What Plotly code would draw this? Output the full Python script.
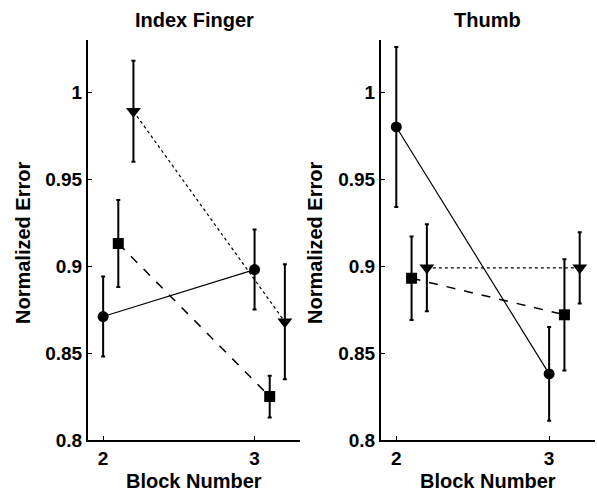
import plotly.graph_objects as go

# Data
circle_x = [2.0, 3.0]
square_x = [2.1, 3.1]
tri_x = [2.2, 3.2]

index_circle = [0.871, 0.898]
index_circle_err = [0.023, 0.023]
index_square = [0.913, 0.825]
index_square_err = [0.025, 0.012]
index_tri = [0.989, 0.868]
index_tri_err = [0.029, 0.033]

thumb_circle = [0.980, 0.838]
thumb_circle_err = [0.046, 0.027]
thumb_square = [0.893, 0.872]
thumb_square_err = [0.024, 0.032]
thumb_tri = [0.899, 0.899]
thumb_tri_err = [0.025, 0.0205]

ytick_vals = [0.8, 0.85, 0.9, 0.95, 1.0]
ytick_text = ["0.8", "0.85", "0.9", "0.95", "1"]
xtick_vals = [2, 3]
xtick_text = ["2", "3"]

W, H = 597, 494
FONT = "Liberation Sans, Arial, sans-serif"

fig = go.Figure()

def add_series(xs, ys, errs, symbol, dash, lw, msize, xa, ya):
    fig.add_trace(go.Scatter(
        x=xs, y=ys, mode="lines+markers",
        line=dict(color="black", width=lw, dash=dash),
        marker=dict(symbol=symbol, size=msize, color="black"),
        error_y=dict(type="data", array=errs, visible=True, color="black",
                     thickness=2, width=2),
        xaxis=xa, yaxis=ya, showlegend=False))

add_series(circle_x, index_circle, index_circle_err, "circle", "solid", 1.2, 11, "x", "y")
add_series(square_x, index_square, index_square_err, "square", "dash", 1.5, 11, "x", "y")
add_series(tri_x, index_tri, index_tri_err, "triangle-down", "dot", 1.2, 13, "x", "y")

add_series(circle_x, thumb_circle, thumb_circle_err, "circle", "solid", 1.2, 11, "x2", "y2")
add_series(square_x, thumb_square, thumb_square_err, "square", "dash", 1.5, 11, "x2", "y2")
add_series(tri_x, thumb_tri, thumb_tri_err, "triangle-down", "dot", 1.2, 13, "x2", "y2")

bold = lambda lst: ["<b>%s</b>" % s for s in lst]

axis_common = dict(showgrid=False, zeroline=False, showline=True, linecolor="black",
                   linewidth=2, ticks="inside", ticklen=4, tickwidth=1, tickcolor="black",
                   tickfont=dict(family=FONT, size=19, color="black", weight=700))

fig.update_layout(
    width=W, height=H,
    margin=dict(l=0, r=0, t=40, b=54),
    plot_bgcolor="white", paper_bgcolor="white",
    xaxis=dict(domain=[88 / W, 300 / W], range=[1.9, 3.3], tickvals=xtick_vals,
               ticktext=bold(xtick_text), anchor="y", **axis_common),
    yaxis=dict(domain=[0, 1], range=[0.8, 1.03], tickvals=ytick_vals,
               ticktext=bold(ytick_text), anchor="x", **axis_common),
    xaxis2=dict(domain=[381 / W, 595 / W], range=[1.9, 3.3], tickvals=xtick_vals,
                ticktext=bold(xtick_text), anchor="y2", **axis_common),
    yaxis2=dict(domain=[0, 1], range=[0.8, 1.03], tickvals=ytick_vals,
                ticktext=bold(ytick_text), anchor="x2", **axis_common),
)

def py(p):
    return (440 - p) / 400.0

tfont = dict(family=FONT, size=20, color="black", weight=700)
ann = [
    dict(text="Index Finger", x=194 / W, y=py(20)),
    dict(text="Thumb", x=488 / W, y=py(20)),
    dict(text="Block Number", x=194 / W, y=py(481)),
    dict(text="Block Number", x=488 / W, y=py(481)),
    dict(text="Normalized Error", x=23 / W, y=py(243), textangle=-90),
    dict(text="Normalized Error", x=315 / W, y=py(243), textangle=-90),
]
for a in ann:
    fig.add_annotation(xref="paper", yref="paper", showarrow=False, font=tfont,
                       xanchor="center", yanchor="middle", **a)

fig.write_html("out.html")
